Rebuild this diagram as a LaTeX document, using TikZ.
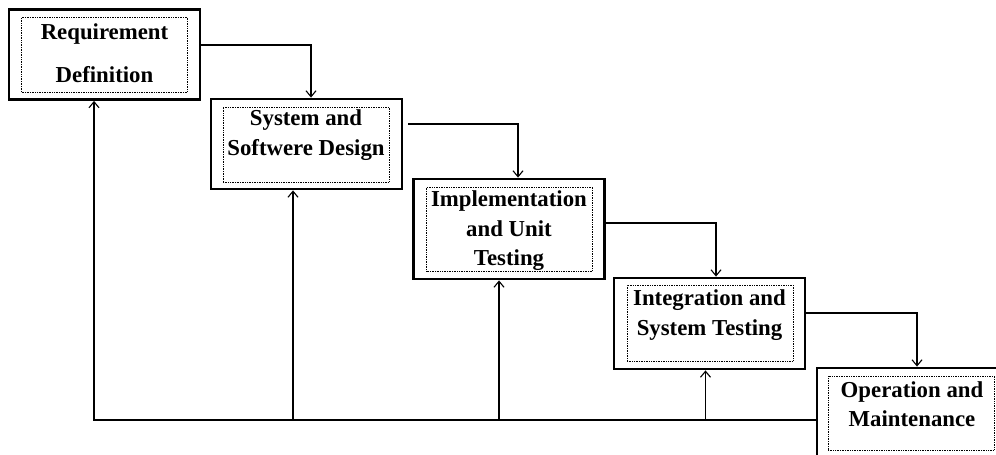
\documentclass[tikz,border=0pt]{standalone}
\usepackage{fontspec}
\setmainfont{Liberation Serif}
\usetikzlibrary{arrows.meta}
\begin{document}
\begin{tikzpicture}[x=1pt,y=-1pt,
  outerbox/.style={draw, line width=2.8pt, minimum width=191pt, minimum height=90pt, inner sep=0pt},
  innerbox/.style={draw, densely dotted, line width=0.7pt, minimum width=166pt, minimum height=75pt, inner sep=0pt},
  label/.style={font=\fontsize{22.8}{29.5}\selectfont\bfseries, align=center, inner sep=0pt},
  conn/.style={line width=1.1pt, -{Straight Barb[length=6pt,width=10pt,line width=1.1pt]}},
  feed/.style={line width=1.1pt}]
\useasboundingbox (0,0) rectangle (996,455);
% boxes
\node[outerbox] (b1) at (104.5,54.5) {};
\node[innerbox] (i1) at (104.5,54.5) {};
\node[label] (t1) at (104.5,53) {Requirement\\[14pt]Definition};

\node[outerbox] (b2) at (306.5,144) {};
\node[innerbox] (i2) at (306,144.5) {};
\node[label] (t2) at (306,135) {System and\\Softwere Design};

\node[outerbox, minimum height=100pt] (b3) at (509,229) {};
\node[innerbox, minimum height=84pt] (i3) at (509.5,229) {};
\node[label] (t3) at (509,231) {Implementation\\and Unit\\Testing};

\node[outerbox, minimum height=91pt] (b4) at (709.5,323.5) {};
\node[innerbox, minimum height=76pt] (i4) at (710,323) {};
\node[label] (t4) at (709.5,315) {Integration and\\System Testing};

\node[outerbox, minimum height=91pt] (b5) at (912.5,413.5) {};
\node[innerbox, minimum height=74pt] (i5) at (911,413) {};
\node[label] (t5) at (912,404) {Operation and\\Maintenance};

% forward connectors
\draw[conn] ([yshift=9.5pt]b1.east) -| ([xshift=4.5pt]b2.north);
\draw[conn] ([xshift=5pt,yshift=20pt]b2.east) -| ([xshift=9pt]b3.north);
\draw[conn] ([yshift=6pt]b3.east) -| ([xshift=6.5pt]b4.north);
\draw[conn] ([yshift=10.5pt]b4.east) -| ([xshift=4.5pt]b5.north);

% feedback
\coordinate (fb) at ([yshift=-6.5pt]b5.west);
\draw[conn] (fb) -| ([xshift=-10.5pt]b1.south);
\draw[conn] ([xshift=-13.5pt]b2.south |- fb) -- ([xshift=-13.5pt]b2.south);
\draw[conn] ([xshift=-10pt]b3.south |- fb) -- ([xshift=-10pt]b3.south);
\draw[conn] ([xshift=-4pt]b4.south |- fb) -- ([xshift=-4pt]b4.south);
\end{tikzpicture}
\end{document}
